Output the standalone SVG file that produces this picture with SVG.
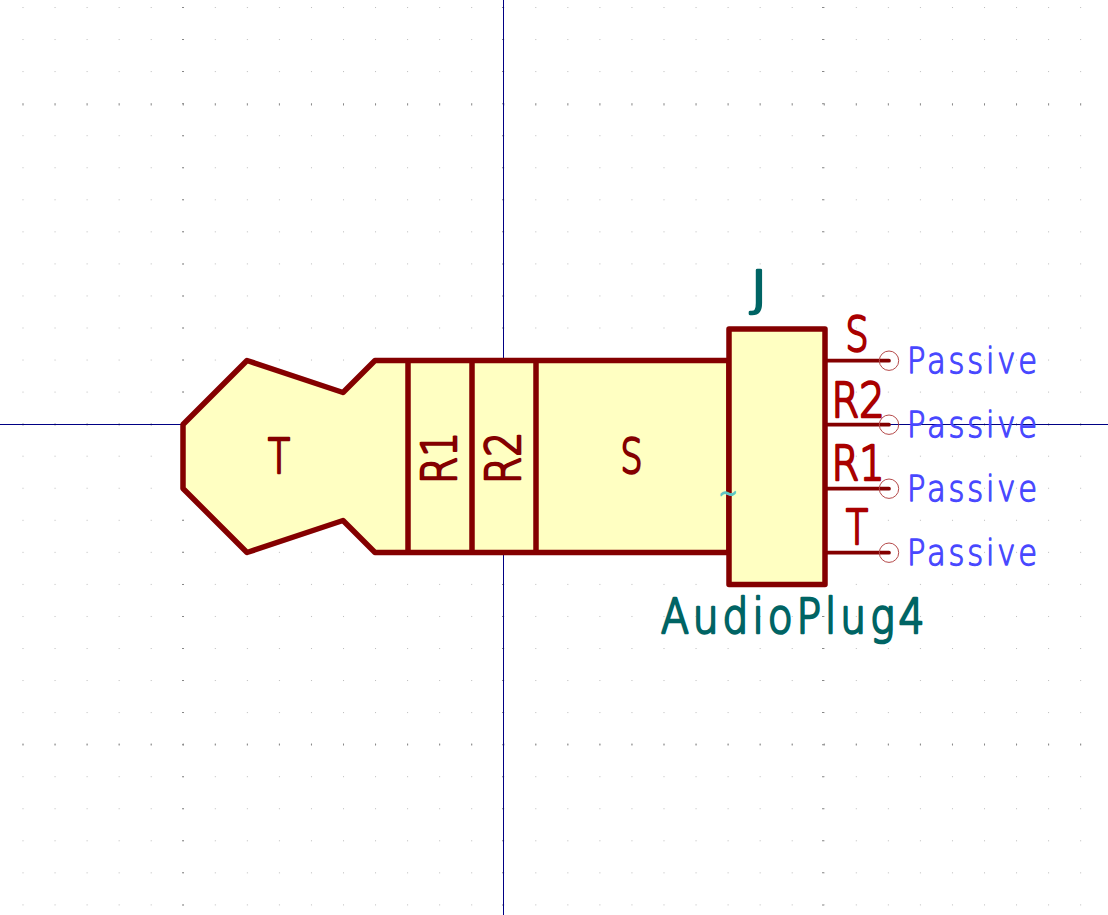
<svg xmlns="http://www.w3.org/2000/svg" width="1108" height="915" viewBox="0 0 1108 915">
<style>
.body{fill:#ffffc2;stroke:#840000;stroke-width:5.5;stroke-linejoin:round;stroke-linecap:round}
.ln{fill:none;stroke:#840000;stroke-width:5.5;stroke-linecap:butt}
.pin{fill:none;stroke:#840000;stroke-width:3.7;stroke-linecap:round}
.ring{fill:none;stroke:#b54a4a;stroke-width:1}
.mx{stroke:#888;stroke-width:2;stroke-dasharray:1 31.05;fill:none}
.my{stroke:#888;stroke-width:2;stroke-dasharray:1 31.05;fill:none}
text{font-family:"DejaVu Sans","Liberation Sans",sans-serif;font-weight:200;stroke-linejoin:round;stroke-linecap:round}
.pn{fill:#a90000;font-size:48px;stroke:#a90000;stroke-width:2.6}
.sn{fill:#840000;font-size:48px;stroke:#840000;stroke-width:2.6}
.ty{fill:#4848ff;font-size:36px;stroke:#4848ff;stroke-width:1.3}
.ref{fill:#006464;font-size:48px;stroke:#006464;stroke-width:2.6}
</style>
<defs>
<pattern id="g" x="22.5" y="7" width="32.05" height="32.05" patternUnits="userSpaceOnUse"><rect width="1" height="1" fill="#bbb"/></pattern>
</defs>
<rect width="1108" height="915" fill="#fff"/>
<rect width="1108" height="915" fill="url(#g)"/>
<g id="grid-major">
<path class="mx" d="M183 7V915M503 7V915M823 7V915"/>
<path class="my" d="M22.5 104.5H1108M22.5 424.5H1108M22.5 744.5H1108"/>
</g>
<g id="axes">
<line x1="0" y1="424.5" x2="1108" y2="424.5" stroke="#000084" stroke-width="1"/>
<line x1="503.5" y1="0" x2="503.5" y2="915" stroke="#000084" stroke-width="1"/>
</g>
<g id="plug">
<path class="body" d="M183 424.5L247 360.5L343 392.5L375 360.5H729V552.5H375L343 520.5L247 552.5L183 488.5Z"/>
<path class="ln" d="M408 360.5V552.5M472 360.5V552.5M536 360.5V552.5"/>
<text class="sn" x="279" y="472.5" text-anchor="middle" textLength="22" lengthAdjust="spacingAndGlyphs">T</text>
<text class="sn" x="631.5" y="472.5" text-anchor="middle" textLength="22" lengthAdjust="spacingAndGlyphs">S</text>
<text class="sn" transform="translate(456 484) rotate(-90)" textLength="52" lengthAdjust="spacingAndGlyphs">R1</text>
<text class="sn" transform="translate(520 484) rotate(-90)" textLength="52" lengthAdjust="spacingAndGlyphs">R2</text>
</g>
<g id="connectors">
<path class="pin" d="M825 360.7H889M825 424.7H889M825 488.7H889M825 552.7H889"/>
</g>
<g id="housing">
<rect class="body" x="729" y="329" width="96" height="255.5"/>
<text x="728" y="503" text-anchor="middle" fill="#5fc4c4" stroke="#5fc4c4" stroke-width="1.6" font-size="30" textLength="19" lengthAdjust="spacingAndGlyphs">~</text>
</g>
<g id="pin-S"><circle class="ring" cx="889" cy="360.7" r="9.7"/><text class="pn" x="857" y="351" text-anchor="middle" textLength="23" lengthAdjust="spacingAndGlyphs">S</text><text class="ty" transform="translate(907 372.5) scale(.85 1)" textLength="153">Passive</text></g>
<g id="pin-R2"><circle class="ring" cx="889" cy="424.7" r="9.7"/><text class="pn" x="858" y="416.5" text-anchor="middle" textLength="53" lengthAdjust="spacingAndGlyphs">R2</text><text class="ty" transform="translate(907 436.5) scale(.85 1)" textLength="153">Passive</text></g>
<g id="pin-R1"><circle class="ring" cx="889" cy="488.7" r="9.7"/><text class="pn" x="858" y="480" text-anchor="middle" textLength="53" lengthAdjust="spacingAndGlyphs">R1</text><text class="ty" transform="translate(907 500.5) scale(.85 1)" textLength="153">Passive</text></g>
<g id="pin-T"><circle class="ring" cx="889" cy="552.7" r="9.7"/><text class="pn" x="857" y="544" text-anchor="middle" textLength="22" lengthAdjust="spacingAndGlyphs">T</text><text class="ty" transform="translate(907 564.5) scale(.85 1)" textLength="153">Passive</text></g>
<g id="labels">
<text class="ref" x="750" y="305" textLength="18" lengthAdjust="spacingAndGlyphs">J</text>
<text class="ref" transform="translate(661 632.5) scale(.85 1)" textLength="310">AudioPlug4</text>
</g>
</svg>
